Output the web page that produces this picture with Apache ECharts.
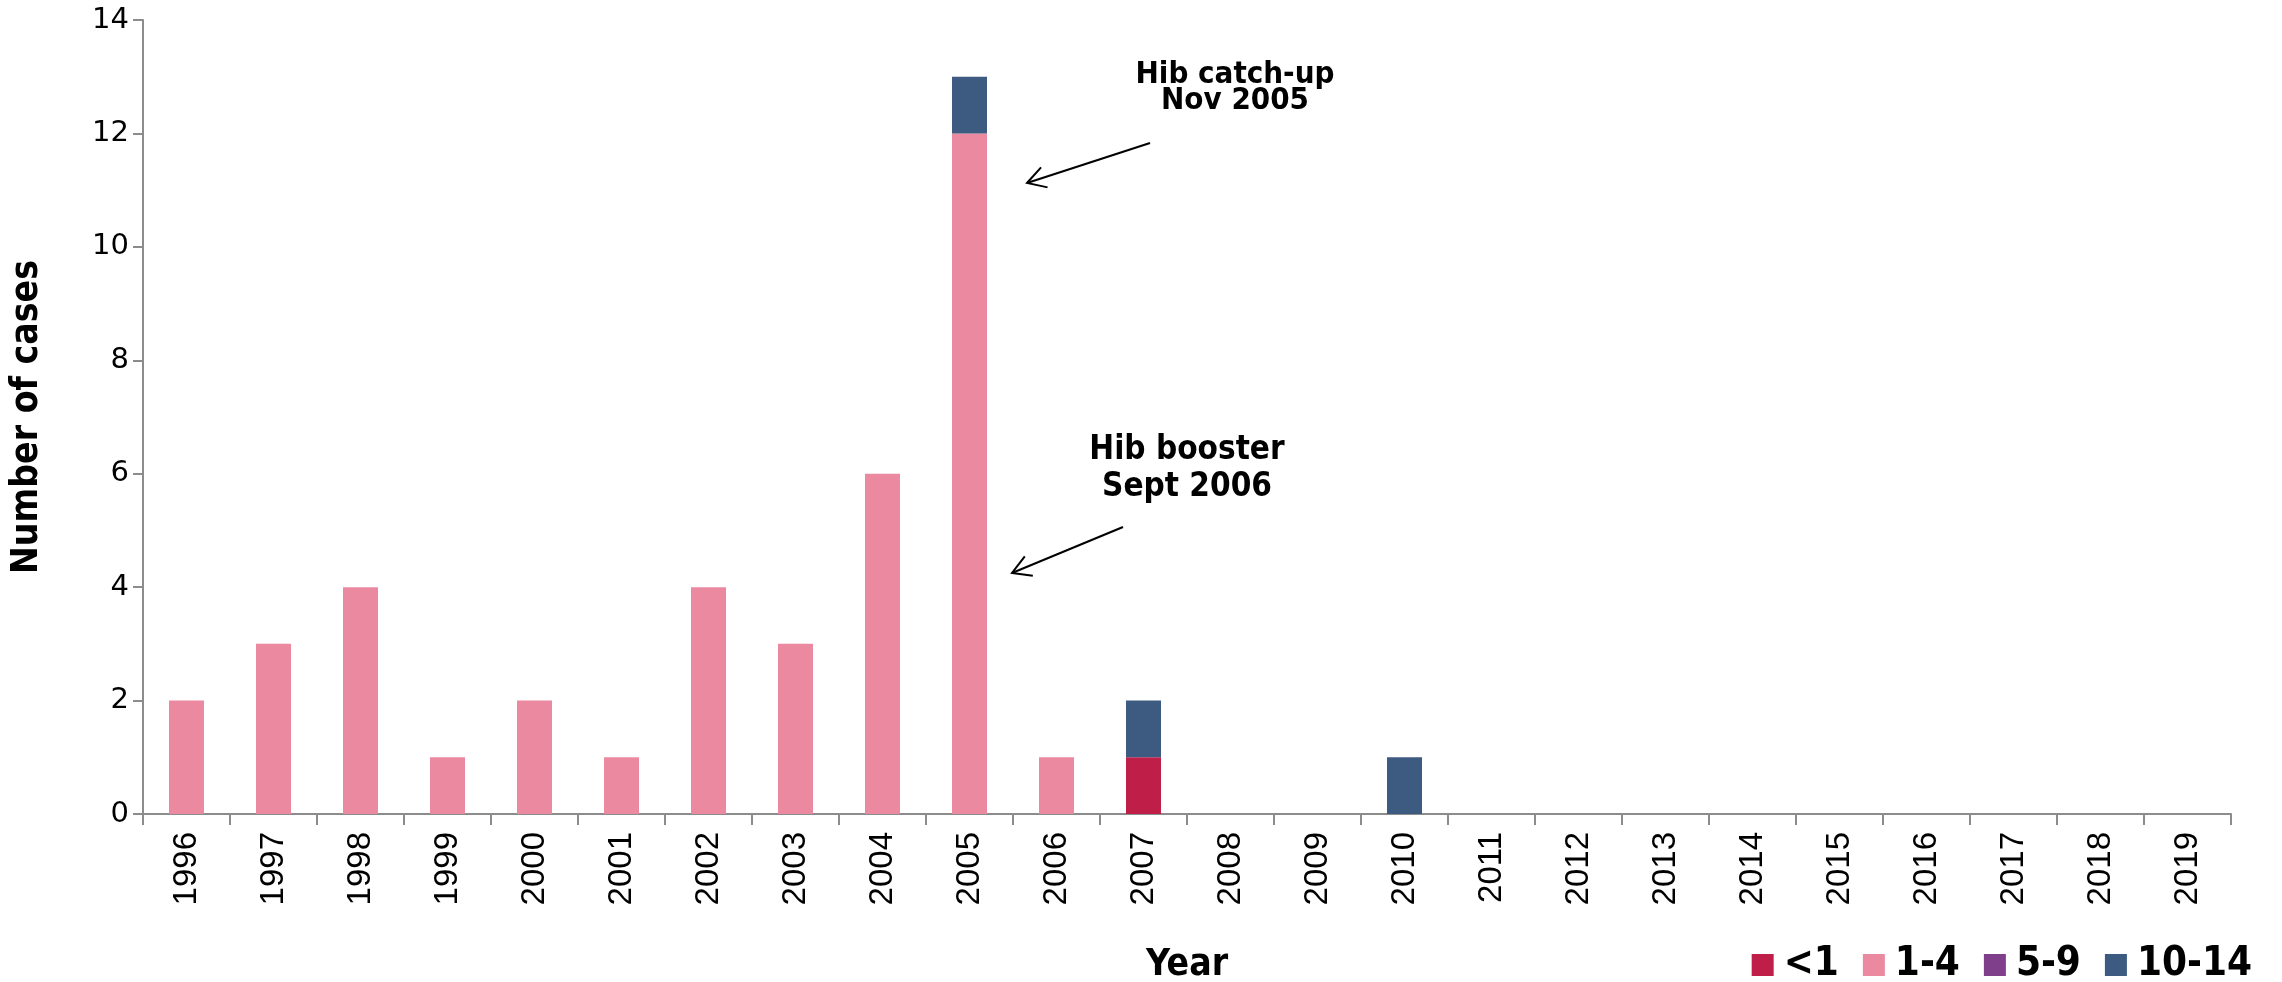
<!DOCTYPE html>
<html>
<head>
<meta charset="utf-8">
<script src="https://cdn.jsdelivr.net/npm/echarts@6/dist/echarts.min.js"></script>
<style>
html,body{margin:0;padding:0;background:#fff;}
#chart{width:2282px;height:982px;}
</style>
</head>
<body>
<div id="chart"></div>
<script>
const years = ['1996','1997','1998','1999','2000','2001','2002','2003','2004','2005','2006','2007','2008','2009','2010','2011','2012','2013','2014','2015','2016','2017','2018','2019'];
const under1   = [0,0,0,0,0,0,0,0,0,0,0,1,0,0,0,0,0,0,0,0,0,0,0,0];
const age1to4  = [2,3,4,1,2,1,4,3,6,12,1,0,0,0,0,0,0,0,0,0,0,0,0,0];
const age5to9  = [0,0,0,0,0,0,0,0,0,0,0,0,0,0,0,0,0,0,0,0,0,0,0,0];
const age10to14= [0,0,0,0,0,0,0,0,0,1,0,1,0,0,1,0,0,0,0,0,0,0,0,0];
const yTicks = [0,2,4,6,8,10,12,14];

const seriesNames = ['<1','1-4','5-9','10-14'];
const colors = ['#BE1E48','#EB89A1','#7F3F8A','#3D5A80'];
const boldFont = '"DejaVu Sans Condensed", "DejaVu Sans", sans-serif';

function arrow(x1,y1,x2,y2){
  const ang = Math.atan2(y2-y1, x2-x1);
  const L = 21, a = Math.PI/6;
  const p1 = [x2 - L*Math.cos(ang - a), y2 - L*Math.sin(ang - a)];
  const p2 = [x2 - L*Math.cos(ang + a), y2 - L*Math.sin(ang + a)];
  return [
    {type:'line', shape:{x1,y1,x2,y2}, style:{stroke:'#000', lineWidth:2}},
    {type:'polyline', shape:{points:[p1,[x2,y2],p2]}, style:{stroke:'#000', lineWidth:2, fill:null}}
  ];
}

const chart = echarts.init(document.getElementById('chart'));
const data = [under1, age1to4, age5to9, age10to14];
chart.setOption({
  animation:false,
  color: colors,
  grid:{left:143, right:51, top:20, bottom:168, containLabel:false, outerBoundsMode:'none'},
  legend:{
    data: seriesNames,
    right: 25, top: 940,
    icon:'rect', itemWidth:22, itemHeight:22, itemGap:24,
    textStyle:{fontFamily:boldFont, fontWeight:'bold', fontSize:40, color:'#000', padding:[0,0,0,5]}
  },
  xAxis:{
    type:'category', data: years,
    axisLine:{lineStyle:{color:'#8c8c8c', width:2}},
    axisTick:{show:true, length:11, lineStyle:{color:'#8c8c8c', width:2}},
    axisLabel:{rotate:90, margin:18, fontFamily:'"Liberation Sans", Arial, sans-serif', fontSize:33, color:'#000'},
    name:'Year', nameLocation:'middle', nameGap:133,
    nameTextStyle:{fontFamily:boldFont, fontWeight:'bold', fontSize:37, color:'#000'}
  },
  yAxis:{
    type:'value', min:0, max:14, interval:2,
    splitLine:{show:false},
    axisLine:{show:true, lineStyle:{color:'#8c8c8c', width:2}},
    axisTick:{show:true, length:10, lineStyle:{color:'#8c8c8c', width:2}},
    axisLabel:{margin:14, fontFamily:'"DejaVu Sans", Verdana, sans-serif', fontSize:29, color:'#000',
      formatter: v => yTicks.includes(v) ? String(v) : ''},
    name:'Number of cases', nameLocation:'middle', nameGap:97, nameRotate:90,
    nameTextStyle:{fontFamily:boldFont, fontWeight:'bold', fontSize:37, color:'#000'}
  },
  series: seriesNames.map((n,i)=>({
    name:n, type:'bar', stack:'total', data:data[i], barWidth:35,
    itemStyle:{color:colors[i]}
  })),
  graphic:[
    {type:'text', x:1235, y:62, style:{text:'Hib catch-up\nNov 2005', font:'bold 31px '+boldFont, fill:'#000', align:'center', verticalAlign:'top', lineHeight:26}},
    {type:'text', x:1187, y:432, style:{text:'Hib booster\nSept 2006', font:'bold 33px '+boldFont, fill:'#000', align:'center', verticalAlign:'top', lineHeight:37}},
    ...arrow(1150,143,1027,183),
    ...arrow(1123,527,1012,573)
  ]
});
</script>
</body>
</html>
